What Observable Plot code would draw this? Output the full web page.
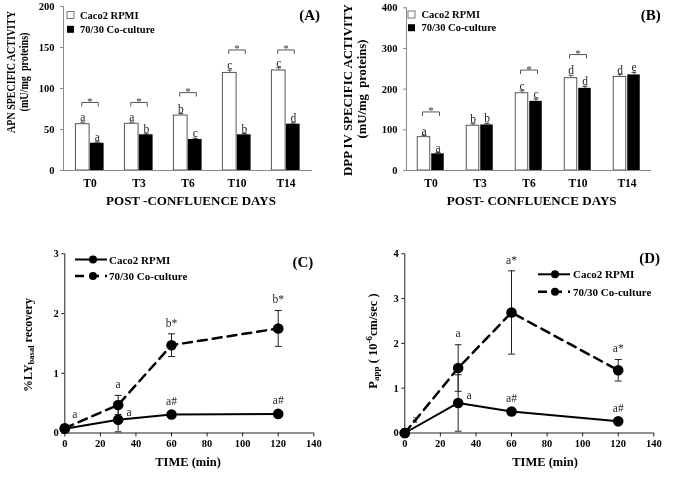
<!DOCTYPE html>
<html><head><meta charset="utf-8">
<script src="https://cdn.jsdelivr.net/npm/d3@7"></script>
<script src="https://cdn.jsdelivr.net/npm/@observablehq/plot@0.6"></script>
<style>
body{margin:0;background:#fff;}
#fig{position:relative;width:685px;height:482px;overflow:hidden;background:#fff;}
#fig svg{position:absolute;overflow:visible;background:transparent;will-change:transform;}
</style></head><body><div id="fig"></div>
<script>
// ---------- data ----------
const days = ["T0", "T3", "T6", "T10", "T14"];
const seriesNames = ["Caco2 RPMI", "70/30 Co-culture"];

// (A) APN specific activity
const apnCaco = [56.5, 57, 67, 119, 122];
const apnCacoErr = [2.5, 2, 2.5, 3.5, 3.5];
const apnCo = [33.3, 43.5, 37.8, 43.5, 56.5];
const apnCoErr = [1.5, 1.2, 1.5, 1.5, 1.5];
const apnLetterCaco = ["a", "a", "b", "c", "c"];
const apnLetterCo = ["a", "b", "c", "b", "d"];
const apnStar = [83, 83, 95, 147, 147];
const apnTicks = [0, 50, 100, 150, 200];

// (B) DPP IV specific activity
const dppCaco = [82, 110, 190, 227, 230];
const dppCacoErr = [4, 5, 6, 7, 6];
const dppCo = [41, 112, 170, 202, 235];
const dppCoErr = [3, 4, 6, 5, 6.5];
const dppLetterCaco = ["a", "b", "c", "d", "d"];
const dppLetterCo = ["a", "b", "c", "d", "e"];
const dppStar = [144, null, 247, 285, null];
const dppTicks = [0, 100, 200, 300, 400];

// (C) %LY basal recovery, (D) Papp
const times = [0, 30, 60, 120];
const timeTicks = [0, 20, 40, 60, 80, 100, 120, 140];
const lyCaco = [0.07, 0.22, 0.31, 0.32];
const lyCacoErr = [0.02, 0.2, 0.02, 0.02];
const lyCo = [0.08, 0.47, 1.47, 1.75];
const lyCoErr = [0.02, 0.16, 0.19, 0.3];
const lyLabelCaco = ["", "a", "a#", "a#"];
const lyLabelCo = ["a", "a", "b*", "b*"];
const lyTicks = [0, 1, 2, 3];

const pCaco = [0, 0.67, 0.48, 0.26];
const pCacoErr = [0, 0.63, 0.02, 0.02];
const pCo = [0, 1.45, 2.69, 1.40];
const pCoErr = [0, 0.52, 0.93, 0.24];
const pLabelCaco = ["", "a", "a#", "a#"];
const pLabelCo = ["a", "a", "a*", "a*"];
const pTicks = [0, 1, 2, 3, 4];

// ---------- helpers ----------
const FONT = "'Liberation Serif', 'Times New Roman', serif";
const fig = document.getElementById("fig");
function place(svg, left, top) {
  svg.style.left = left + "px"; svg.style.top = top + "px";
  fig.appendChild(svg);
  return d3.select(svg);
}
function txt(g, x, y, parts, o = {}) {
  const base = `translate(${x},${y})` + (o.rotate ? ` rotate(${o.rotate})` : "");
  const t = g.append("text")
    .attr("transform", base)
    .attr("text-anchor", o.anchor || "middle")
    .attr("dominant-baseline", "central")
    .attr("font-family", FONT)
    .attr("font-size", o.size || 11)
    .attr("font-weight", o.weight || "bold")
    .attr("fill", "black");
  if (typeof parts === "string") t.text(parts);
  else for (const p of parts) {
    const s = t.append("tspan").text(p.t);
    if (p.dy) s.attr("dy", p.dy);
    if (p.size) s.attr("font-size", p.size);
  }
  if (o.length) {
    const len = t.node().getComputedTextLength();
    if (len > 0) t.attr("transform", base + ` scale(${o.length / len},1)`);
  }
  return t;
}
const capSym = (w) => ({draw(ctx) { ctx.moveTo(-w / 2, 0); ctx.lineTo(w / 2, 0); }});
const bracketSym = (w, h) => ({draw(ctx) { ctx.moveTo(-w / 2, h); ctx.lineTo(-w / 2, 0); ctx.lineTo(w / 2, 0); ctx.lineTo(w / 2, h); }});
function insets(bw, off, w) { const l = bw / 2 + off - w / 2; return {insetLeft: l, insetRight: bw - l - w}; }
const intFmt = d3.format("d");

// ---------- bar panels ----------
function barPanel(o) {
  const data = days.map((d, i) => ({day: d, c: o.caco[i], ce: o.cacoErr[i], k: o.co[i], ke: o.coErr[i],
    lc: o.lc[i], lk: o.lk[i], star: o.star[i]}));
  const W = 340, H = 215;
  const bw = (W - o.ml - o.mr) / days.length;
  const off = o.off, w = o.bw;
  const gray = "#8a8a8a";
  const starData = data.filter(d => d.star != null);
  return Plot.plot({
    width: W, height: H, marginLeft: o.ml, marginRight: o.mr, marginTop: o.mt, marginBottom: H - o.y0,
    style: {fontFamily: FONT, fontSize: "11px", fontWeight: "bold", background: "transparent", color: "black"},
    x: {type: "band", domain: days, padding: 0, label: null},
    y: {domain: o.domain, label: null},
    marks: [
      Plot.axisY({ticks: o.ticks, tickFormat: intFmt, tickSize: 3, tickPadding: 6, stroke: gray, fill: "black", fontSize: 10.5, label: null}),
      Plot.axisX({tickSize: 0, tickPadding: 8, fill: "black", fontSize: 11.5, label: null}),
      Plot.frame({anchor: "left", stroke: gray}),
      // error bars
      Plot.ruleX(data, {x: "day", y1: "c", y2: d => d.c + d.ce, dx: -off, stroke: "#555"}),
      Plot.dot(data, {x: "day", y: d => d.c + d.ce, dx: -off, symbol: capSym(5), fill: "none", stroke: "#555", strokeWidth: 1}),
      Plot.ruleX(data, {x: "day", y1: "k", y2: d => d.k + d.ke, dx: off, stroke: "#333"}),
      Plot.dot(data, {x: "day", y: d => d.k + d.ke, dx: off, symbol: capSym(5), fill: "none", stroke: "#333", strokeWidth: 1}),
      // bars
      Plot.barY(data, {x: "day", y: "c", fill: "white", stroke: "#555", strokeWidth: 1, ...insets(bw, -off, w)}),
      Plot.barY(data, {x: "day", y: "k", fill: "black", ...insets(bw, off, w)}),
      Plot.ruleY([0], {stroke: gray}),
      // letters
      Plot.text(data, {x: "day", y: d => d.c + d.ce, text: "lc", dx: -off, dy: -1, lineAnchor: "bottom", fontWeight: "normal", fontSize: 11.5, fill: "#222"}),
      Plot.text(data, {x: "day", y: d => d.k + d.ke, text: "lk", dx: off, dy: -1, lineAnchor: "bottom", fontWeight: "normal", fontSize: 11.5, fill: "#222"}),
      // significance brackets
      Plot.dot(starData, {x: "day", y: "star", symbol: bracketSym(o.brw, 4), fill: "none", stroke: "#555", strokeWidth: 1}),
      Plot.text(starData, {x: "day", y: "star", text: () => "*", dy: -1, lineAnchor: "middle", fontWeight: "normal", fontSize: 11, fill: "#333"})
    ]
  });
}

// A
const svgA = barPanel({caco: apnCaco, cacoErr: apnCacoErr, co: apnCo, coErr: apnCoErr, lc: apnLetterCaco, lk: apnLetterCo,
  star: apnStar, domain: [0, 200], ticks: apnTicks, ml: 63, mr: 28, mt: 6, y0: 170, off: 7.25, bw: 14.5, brw: 16.5});
const gA = place(svgA, 0, 0);
// B
const svgB = barPanel({caco: dppCaco, cacoErr: dppCacoErr, co: dppCo, coErr: dppCoErr, lc: dppLetterCaco, lk: dppLetterCo,
  star: dppStar, domain: [0, 400], ticks: dppTicks, ml: 66, mr: 29, mt: 7.3, y0: 170, off: 7, bw: 12.5, brw: 17});
const gB = place(svgB, 340, 0);

function squareLegend(g, x, y1, y2, tx) {
  g.append("rect").attr("x", x).attr("y", y1 - 3.5).attr("width", 7).attr("height", 7).attr("fill", "white").attr("stroke", "#777");
  g.append("rect").attr("x", x).attr("y", y2 - 3.5).attr("width", 7).attr("height", 7).attr("fill", "black");
  txt(g, tx, y1, seriesNames[0], {anchor: "start", size: 10.5});
  txt(g, tx, y2, seriesNames[1], {anchor: "start", size: 10.5});
}
squareLegend(gA, 67, 15, 29.3, 80);
txt(gA, 320, 15, "(A)", {anchor: "end", size: 15});
txt(gA, 10, 72, "APN SPECIFIC ACTIVITY", {rotate: -90, size: 13.5, length: 122});
txt(gA, 23.5, 72, "(mU/mg  proteins)", {rotate: -90, size: 12.5, length: 79});
txt(gA, 191, 201, "POST -CONFLUENCE DAYS", {size: 13, length: 170});

squareLegend(gB, 68, 14.5, 27.7, 81.5);
txt(gB, 320.7, 15, "(B)", {anchor: "end", size: 15});
txt(gB, 7, 90, "DPP IV SPECIFIC ACTIVITY", {rotate: -90, size: 13.5, length: 172});
txt(gB, 22.5, 89, "(mU/mg  proteins)", {rotate: -90, size: 12.5, length: 99});
txt(gB, 191.7, 201, "POST- CONFLUENCE DAYS", {size: 13, length: 170});

// ---------- line panels ----------
function linePanel(o) {
  const data = times.map((t, i) => ({t, c: o.caco[i], ce: o.cacoErr[i], k: o.co[i], ke: o.coErr[i], lc: o.lc[i], lk: o.lk[i], i}));
  const W = 340, H = 267;
  const ax = "#222";
  const cap = capSym(7);
  return Plot.plot({
    width: W, height: H, marginLeft: o.ml, marginRight: o.mr, marginTop: 38.3, marginBottom: 49.5,
    style: {fontFamily: FONT, fontSize: "11px", fontWeight: "bold", background: "transparent", color: "black"},
    x: {domain: [0, 140], label: null},
    y: {domain: o.domain, label: null},
    marks: [
      Plot.axisY({ticks: o.ticks, tickFormat: intFmt, tickSize: 3, tickPadding: 3, stroke: ax, fill: "black", fontSize: 10.5, label: null}),
      Plot.axisX({ticks: timeTicks, tickFormat: intFmt, tickSize: 4, tickPadding: 3, stroke: ax, fill: "black", fontSize: 10.5, label: null}),
      Plot.ruleX([0], {stroke: ax}),
      Plot.ruleY([0], {stroke: ax}),
      // error bars
      Plot.ruleX(data, {x: "t", y1: d => d.k - d.ke, y2: d => d.k + d.ke, stroke: "#222"}),
      Plot.dot(data, {x: "t", y: d => d.k - d.ke, symbol: cap, fill: "none", stroke: "#222", strokeWidth: 1}),
      Plot.dot(data, {x: "t", y: d => d.k + d.ke, symbol: cap, fill: "none", stroke: "#222", strokeWidth: 1}),
      Plot.ruleX(data, {x: "t", y1: d => d.c - d.ce, y2: d => d.c + d.ce, stroke: "#222"}),
      Plot.dot(data, {x: "t", y: d => d.c - d.ce, symbol: cap, fill: "none", stroke: "#222", strokeWidth: 1}),
      Plot.dot(data, {x: "t", y: d => d.c + d.ce, symbol: cap, fill: "none", stroke: "#222", strokeWidth: 1}),
      // lines
      Plot.line(data, {x: "t", y: "k", stroke: "black", strokeWidth: 2.5, strokeDasharray: "9,6"}),
      Plot.line(data, {x: "t", y: "c", stroke: "black", strokeWidth: 2}),
      Plot.dot(data, {x: "t", y: "k", r: 5.3, fill: "black", stroke: "none"}),
      Plot.dot(data, {x: "t", y: "c", r: 5.3, fill: "black", stroke: "none"}),
      // letters
      Plot.text(data.filter(d => d.i === 0), {x: "t", y: "k", text: "lk", dx: 10, dy: -14, fontWeight: "normal", fontSize: 11.5, fill: "#222"}),
      Plot.text(data.filter(d => d.i > 0), {x: "t", y: d => d.k + d.ke, text: "lk", dy: -11, fontWeight: "normal", fontSize: 11.5, fill: "#222"}),
      Plot.text(data.filter(d => d.i === 1), {x: "t", y: "c", text: "lc", dx: 11, dy: -8, fontWeight: "normal", fontSize: 11.5, fill: "#222"}),
      Plot.text(data.filter(d => d.i > 1), {x: "t", y: d => d.c + d.ce, text: "lc", dy: -12, fontWeight: "normal", fontSize: 11.5, fill: "#222"})
    ]
  });
}

function lineLegend(g, x1, x2, xd, y1, y2, tx) {
  g.append("line").attr("x1", x1).attr("x2", x2).attr("y1", y1).attr("y2", y1).attr("stroke", "black").attr("stroke-width", 2);
  g.append("circle").attr("cx", xd).attr("cy", y1).attr("r", 4).attr("fill", "black");
  g.append("line").attr("x1", x1).attr("x2", x2).attr("y1", y2).attr("y2", y2).attr("stroke", "black").attr("stroke-width", 2.5).attr("stroke-dasharray", "9,6");
  g.append("circle").attr("cx", xd).attr("cy", y2).attr("r", 4).attr("fill", "black");
  txt(g, tx, y1, seriesNames[0], {anchor: "start", size: 11});
  txt(g, tx, y2, seriesNames[1], {anchor: "start", size: 11});
}

const svgC = linePanel({caco: lyCaco, cacoErr: lyCacoErr, co: lyCo, coErr: lyCoErr, lc: lyLabelCaco, lk: lyLabelCo,
  domain: [0, 3], ticks: lyTicks, ml: 64.3, mr: 26.7});
const gC = place(svgC, 0, 215);
lineLegend(gC, 75, 107, 93, 44.5, 61, 109);
txt(gC, 313.3, 46.7, "(C)", {anchor: "end", size: 15});
txt(gC, 28.3, 130, [{t: "%LY"}, {t: "basal", dy: 3, size: 8.5}, {t: " recovery", dy: -3}], {rotate: -90, size: 12});
txt(gC, 188, 247, "TIME (min)", {size: 12.5});

const svgD = linePanel({caco: pCaco, cacoErr: pCacoErr, co: pCo, coErr: pCoErr, lc: pLabelCaco, lk: pLabelCo,
  domain: [0, 4], ticks: pTicks, ml: 64.3, mr: 26.7});
const gD = place(svgD, 340, 215);
lineLegend(gD, 198, 230, 215, 59.3, 76.7, 233);
txt(gD, 320, 43, "(D)", {anchor: "end", size: 15});
txt(gD, 33.3, 126, [{t: "P"}, {t: "app", dy: 3, size: 9}, {t: " ( 10", dy: -3}, {t: "-6", dy: -4, size: 9}, {t: "cm/sec )", dy: 4}], {rotate: -90, size: 12.5});
txt(gD, 205, 247, "TIME (min)", {size: 12.5});
</script>
</body></html>
